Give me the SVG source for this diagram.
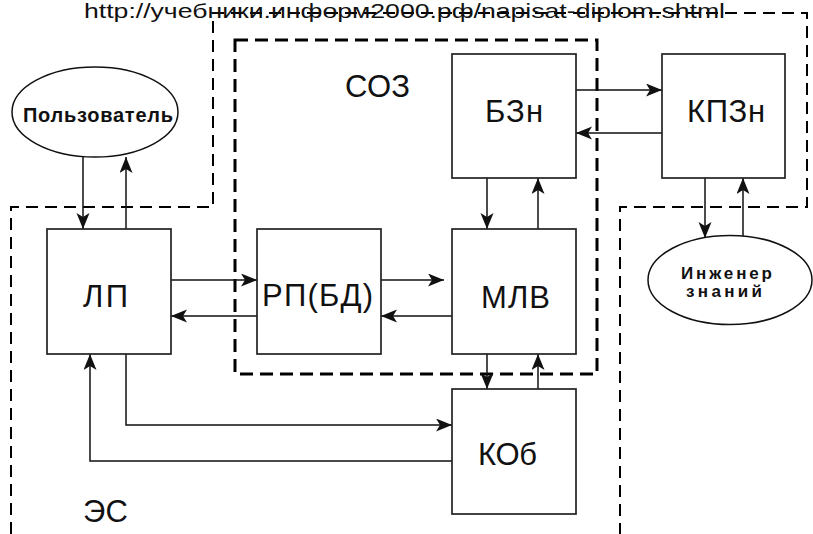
<svg xmlns="http://www.w3.org/2000/svg" width="813" height="534" viewBox="0 0 813 534">
<style>
.box{fill:#fff;stroke:#222;stroke-width:1.7}
.ell{fill:#fff;stroke:#111;stroke-width:1.5}
.lbl{font-family:"Liberation Sans",Arial,sans-serif;font-size:31px;fill:#111}
.blbl{font-family:"Liberation Sans",Arial,sans-serif;font-weight:bold;fill:#111}
.con{fill:none;stroke:#111;stroke-width:1.5;marker-end:url(#ah)}
.dash1{fill:none;stroke:#000;stroke-width:2;stroke-dasharray:12 7}
.dash2{fill:none;stroke:#000;stroke-width:3;stroke-dasharray:13 7}
</style>
<defs>
<marker id="ah" markerUnits="userSpaceOnUse" markerWidth="17" markerHeight="14" refX="16" refY="6.5" orient="auto">
<path d="M0,0 L16,6.5 L0,13 L4,6.5 z" fill="#111"/>
</marker>
</defs>
<rect width="813" height="534" fill="#fff"/>
<g id="boundaries">
<path class="dash1" d="M11,534 L11,207 L213,207 L213,13 L807,13 L807,207 L620,207 L620,534"/>
<rect class="dash2" x="235" y="40" width="362" height="334"/>
</g>
<text class="lbl" x="84" y="18" style="font-size:21px" textLength="641" lengthAdjust="spacingAndGlyphs">http://учебники.информ2000.рф/napisat-diplom.shtml</text>
<text id="label-soz" class="lbl" x="345" y="97" textLength="65">СОЗ</text>
<text id="label-es" class="lbl" x="83" y="522" textLength="45">ЭС</text>
<g id="connectors">
<line class="con" x1="83" y1="157" x2="83" y2="229"/>
<line class="con" x1="126" y1="229" x2="126" y2="157"/>
<line class="con" x1="171" y1="280" x2="257" y2="280"/>
<line class="con" x1="257" y1="316" x2="171" y2="316"/>
<line class="con" x1="381" y1="280" x2="444" y2="280"/>
<line class="con" x1="452" y1="316" x2="381" y2="316"/>
<line class="con" x1="487" y1="178" x2="487" y2="229"/>
<line class="con" x1="538" y1="229" x2="538" y2="178"/>
<line class="con" x1="487" y1="354" x2="487" y2="389"/>
<line class="con" x1="538" y1="389" x2="538" y2="354"/>
<polyline class="con" points="126,354 126,425 452,425"/>
<polyline class="con" points="452,461 90,461 90,354"/>
<line class="con" x1="576" y1="90" x2="662" y2="90"/>
<line class="con" x1="662" y1="133" x2="576" y2="133"/>
<line class="con" x1="705" y1="178" x2="705" y2="238"/>
<line class="con" x1="743" y1="236" x2="743" y2="178"/>
</g>
<g id="user">
<ellipse class="ell" cx="95" cy="112" rx="83" ry="45"/>
<text class="blbl" x="23" y="122" style="font-size:20px" textLength="150">Пользователь</text>
</g>
<g id="engineer">
<ellipse class="ell" cx="730" cy="280" rx="82" ry="44.5"/>
<text class="blbl" x="681" y="279" style="font-size:17px" textLength="91">Инженер</text>
<text class="blbl" x="686" y="297" style="font-size:17px" textLength="76">знаний</text>
</g>
<g id="lp">
<rect class="box" x="47" y="229" width="124" height="125"/>
<text class="lbl" x="83" y="307" textLength="45">ЛП</text>
</g>
<g id="rp">
<rect class="box" x="257" y="229" width="124" height="125"/>
<text class="lbl" x="262" y="306" textLength="111">РП(БД)</text>
</g>
<g id="mlv">
<rect class="box" x="452" y="229" width="124" height="125"/>
<text class="lbl" x="481" y="308" textLength="69">МЛВ</text>
</g>
<g id="kob">
<rect class="box" x="452" y="389" width="124" height="125"/>
<text class="lbl" x="478" y="465" textLength="59">КОб</text>
</g>
<g id="bzn">
<rect class="box" x="452" y="54" width="124" height="124"/>
<text class="lbl" x="485" y="122" textLength="58">БЗн</text>
</g>
<g id="kpzn">
<rect class="box" x="662" y="54" width="123" height="124"/>
<text class="lbl" x="687" y="122" textLength="78">КПЗн</text>
</g>
</svg>
